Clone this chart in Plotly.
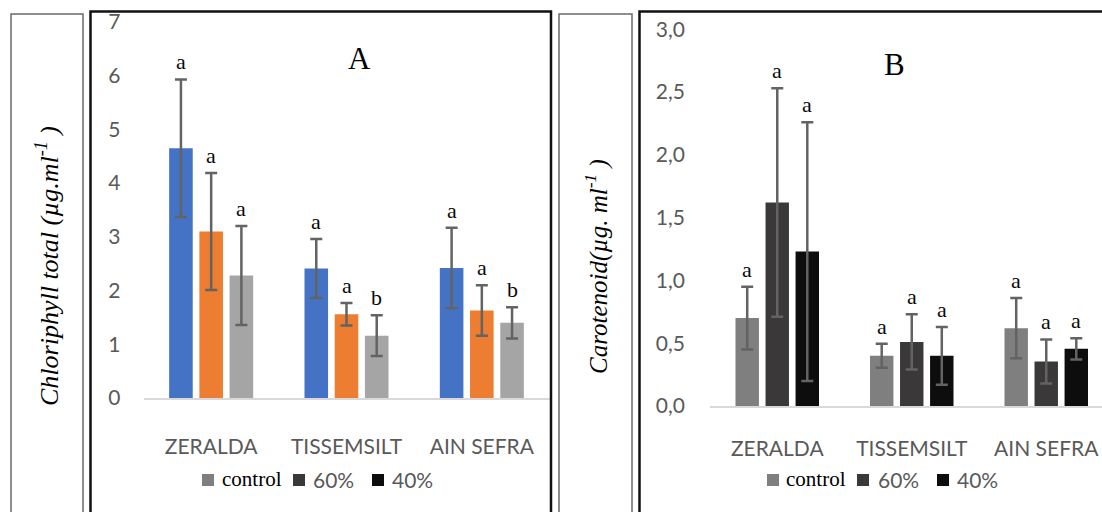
import plotly.graph_objects as go

W, H = 1102, 512

sites = ["ZERALDA", "TISSEMSILT", "AIN SEFRA"]
treatments = ["control", "60%", "40%"]

# Panel A: total chlorophyll
chl_control = [4.65, 2.41, 2.42]
chl_60 = [3.10, 1.56, 1.63]
chl_40 = [2.28, 1.16, 1.40]
chl_control_err = [1.28, 0.55, 0.75]
chl_60_err = [1.09, 0.21, 0.47]
chl_40_err = [0.92, 0.38, 0.29]
chl_letters_control = ["a", "a", "a"]
chl_letters_60 = ["a", "a", "a"]
chl_letters_40 = ["a", "b", "b"]
chl_tickvals = [0, 1, 2, 3, 4, 5, 6, 7]
chl_ticktext = ["0", "1", "2", "3", "4", "5", "6", "7"]

# Panel B: carotenoids
car_control = [0.70, 0.40, 0.62]
car_60 = [1.62, 0.51, 0.355]
car_40 = [1.23, 0.40, 0.455]
car_control_err = [0.25, 0.095, 0.24]
car_60_err = [0.91, 0.22, 0.175]
car_40_err = [1.03, 0.23, 0.085]
car_letters_control = ["a", "a", "a"]
car_letters_60 = ["a", "a", "a"]
car_letters_40 = ["a", "a", "a"]
car_tickvals = [0, 0.5, 1.0, 1.5, 2.0, 2.5, 3.0]
car_ticktext = ["0,0", "0,5", "1,0", "1,5", "2,0", "2,5", "3,0"]

colors_a = ["#4472C4", "#ED7D31", "#A5A5A5"]
colors_b = ["#7F7F7F", "#3A3838", "#0D0D0D"]
legend_colors = ["#7F7F7F", "#3A3838", "#0D0D0D"]

BARGAP = 0.33
BARGROUPGAP = 0.22
ERR_COLOR = "#636363"
TICK_FONT = dict(family="Lato", size=21, color="#595959")
SERIF = "Liberation Serif"


def px_x(x):
    return x / W


def px_y(y):
    return 1 - y / H


fig = go.Figure()

panel_a = [(chl_control, chl_control_err, chl_letters_control),
           (chl_60, chl_60_err, chl_letters_60),
           (chl_40, chl_40_err, chl_letters_40)]
panel_b = [(car_control, car_control_err, car_letters_control),
           (car_60, car_60_err, car_letters_60),
           (car_40, car_40_err, car_letters_40)]

annotations = []
slot = (1 - BARGAP) / 3

for (panel, colors, xa, ya) in [(panel_a, colors_a, "x", "y"), (panel_b, colors_b, "x2", "y2")]:
    for j, (vals, errs, letters) in enumerate(panel):
        fig.add_trace(go.Bar(
            x=sites, y=vals, name=treatments[j], xaxis=xa, yaxis=ya,
            marker=dict(color=colors[j], line=dict(width=0)),
            error_y=dict(type="data", array=errs, color=ERR_COLOR, thickness=2.5, width=6),
            showlegend=False, offsetgroup=str(j),
        ))
        for i in range(len(sites)):
            annotations.append(dict(
                x=i + (j - 1) * slot, y=vals[i] + errs[i], xref=xa, yref=ya,
                text=letters[i], showarrow=False,
                xanchor="center", yanchor="bottom", yshift=3,
                font=dict(family=SERIF, size=22, color="#0A0A0A"),
            ))


def paper_text(x, y, text, font, xanchor="center", yanchor="middle", angle=0):
    annotations.append(dict(x=px_x(x), y=px_y(y), xref="paper", yref="paper", text=text,
                            showarrow=False, xanchor=xanchor, yanchor=yanchor,
                            textangle=angle, font=font))


# panel titles
paper_text(359, 58, "A", dict(family=SERIF, size=31, color="black"))
paper_text(894, 64, "B", dict(family=SERIF, size=31, color="black"))

# y axis titles in their side boxes
paper_text(47, 266, "<i>Chloriphyll total (µg.ml<sup>-1</sup> )</i>",
           dict(family=SERIF, size=26, color="black"), angle=-90)
paper_text(596, 267, "<i>Carotenoid(µg. ml<sup>-1</sup> )</i>",
           dict(family=SERIF, size=25, color="black"), angle=-90)

shapes = []
# legends (manual)
legend_specs = [
    ([202, 293, 372], [220, 311, 390]),
    ([767, 857, 937], [784, 876, 955]),
]
for sq_x, txt_x in legend_specs:
    for k in range(3):
        shapes.append(dict(type="rect", xref="paper", yref="paper",
                           x0=px_x(sq_x[k]), x1=px_x(sq_x[k] + 12),
                           y0=px_y(486), y1=px_y(474),
                           fillcolor=legend_colors[k], line=dict(width=0)))
        if k == 0:
            f = dict(family=SERIF, size=21, color="black")
        else:
            f = dict(family="Lato", size=21, color="#595959")
        paper_text(txt_x[k], 479, treatments[k], f, xanchor="left")


# frames
def box(x0, x1, y0, color, width):
    shapes.append(dict(type="rect", xref="paper", yref="paper",
                       x0=px_x(x0), x1=px_x(x1), y0=px_y(H + 20), y1=px_y(y0),
                       line=dict(color=color, width=width), fillcolor="rgba(0,0,0,0)"))


box(11, 83, 14, "#6A6A6A", 1.5)
box(90.5, 551, 11.5, "#111111", 2.5)
box(559, 632, 14, "#6A6A6A", 1.5)
box(639.5, 1130, 11.5, "#111111", 2.5)

fig.update_layout(
    width=W, height=H,
    margin=dict(l=0, r=0, t=0, b=0, pad=0, autoexpand=False),
    paper_bgcolor="white", plot_bgcolor="white",
    barmode="group", bargap=BARGAP, bargroupgap=BARGROUPGAP,
    showlegend=False,
    annotations=annotations, shapes=shapes,
    xaxis=dict(domain=[px_x(143.5), px_x(549.5)], anchor="y", type="category",
               range=[-0.5, 2.5], showline=True, linecolor="#D9D9D9", linewidth=1.5,
               ticks="", tickfont=TICK_FONT, ticklabelstandoff=29, showgrid=False,
               automargin=False),
    yaxis=dict(domain=[px_y(398), px_y(22)], anchor="x", range=[0, 7],
               tickvals=chl_tickvals, ticktext=chl_ticktext, showgrid=False,
               zeroline=False, showline=False, ticks="", tickfont=TICK_FONT,
               ticklabelstandoff=22, automargin=False),
    xaxis2=dict(domain=[px_x(710), 1.0], anchor="y2", type="category",
                range=[-0.5, 2.4145], showline=True, linecolor="#D9D9D9", linewidth=1.5,
                ticks="", tickfont=TICK_FONT, ticklabelstandoff=23, showgrid=False,
                automargin=False),
    yaxis2=dict(domain=[px_y(406), px_y(29.3)], anchor="x2", range=[0, 3],
                tickvals=car_tickvals, ticktext=car_ticktext, showgrid=False,
                zeroline=False, showline=False, ticks="", tickfont=TICK_FONT,
                ticklabelstandoff=24, automargin=False),
)

fig.write_html("out.html")
